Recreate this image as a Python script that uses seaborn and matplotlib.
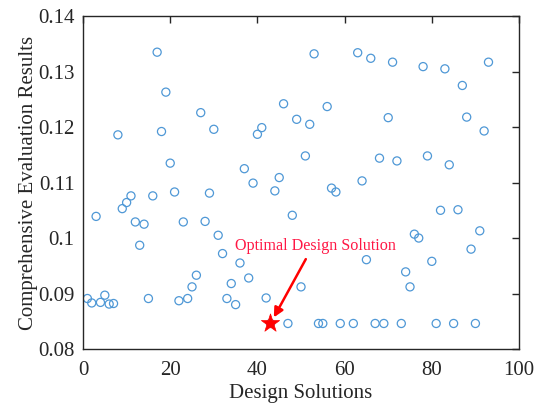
import matplotlib
matplotlib.use("Agg")
import matplotlib.pyplot as plt
import seaborn as sns
import pandas as pd

solutions = [1, 2, 3, 4, 5, 6, 7, 8, 9, 10, 11, 12, 13, 14, 15, 16, 17, 18, 19, 20,
             21, 22, 23, 24, 25, 26, 27, 28, 29, 30, 31, 32, 33, 34, 35, 36, 37, 38, 39, 40,
             41, 42, 43, 44, 45, 46, 47, 48, 49, 50, 51, 52, 53, 54, 55, 56, 57, 58, 59, 62,
             63, 64, 65, 66, 67, 68, 69, 70, 71, 72, 73, 74, 75, 76, 77, 78, 79, 80, 81, 82,
             83, 84, 85, 86, 87, 88, 89, 90, 91, 92, 93]
results = [0.0891, 0.0883, 0.1039, 0.0884, 0.0897, 0.0881, 0.0882, 0.1186, 0.1053, 0.1064,
           0.1076, 0.1029, 0.0987, 0.1025, 0.0891, 0.1076, 0.1335, 0.1192, 0.1263, 0.1135,
           0.1083, 0.0887, 0.1029, 0.0891, 0.0912, 0.0933, 0.1226, 0.1030, 0.1081, 0.1196,
           0.1005, 0.0972, 0.0891, 0.0918, 0.0880, 0.0955, 0.1125, 0.0928, 0.1099, 0.1187,
           0.1199, 0.0892, 0.0846, 0.1085, 0.1109, 0.1242, 0.0846, 0.1041, 0.1214, 0.0912,
           0.1148, 0.1205, 0.1332, 0.0846, 0.0846, 0.1237, 0.1090, 0.1083, 0.0846, 0.0846,
           0.1334, 0.1103, 0.0961, 0.1324, 0.0846, 0.1144, 0.0846, 0.1217, 0.1317, 0.1139,
           0.0846, 0.0939, 0.0912, 0.1007, 0.1000, 0.1309, 0.1148, 0.0958, 0.0846, 0.1050,
           0.1305, 0.1132, 0.0846, 0.1051, 0.1275, 0.1218, 0.0980, 0.0846, 0.1013, 0.1193,
           0.1317]
optimal_x = [43]
optimal_y = [0.0846]
annotation_text = "Optimal Design Solution"
x_ticks = [0, 20, 40, 60, 80, 100]
y_ticks = [0.08, 0.09, 0.10, 0.11, 0.12, 0.13, 0.14]
y_tick_labels = ["0.08", "0.09", "0.1", "0.11", "0.12", "0.13", "0.14"]

df = pd.DataFrame({"Design Solutions": solutions, "Result": results})
opt = pd.DataFrame({"x": optimal_x, "y": optimal_y})

sns.set_theme(style="white")
plt.rcParams["font.family"] = ["Liberation Serif", "DejaVu Serif"]

fig = plt.figure(figsize=(5.37, 4.03), dpi=100)
ax = fig.add_axes([0.1546, 0.134, 0.8119, 0.826])

sns.scatterplot(data=df, x="Design Solutions", y="Result", ax=ax, marker="o",
                s=34, facecolors="none", edgecolor="#4f98d6", linewidth=0.9, legend=False)
sns.scatterplot(data=opt, x="x", y="y", ax=ax, marker="*", s=190,
                color="#ff0000", edgecolor="#ff0000", linewidth=0.5, legend=False, zorder=5)

ax.text(34.9, 0.0986, annotation_text, color="#ff1744", fontsize=11.6,
        ha="left", va="center")
ax.annotate("", xy=(optimal_x[0], optimal_y[0]), xytext=(51.1, 0.0962),
            arrowprops=dict(arrowstyle="-|>", color="#ff0000", lw=1.8,
                            shrinkA=0, shrinkB=5, mutation_scale=14))

ax.set_xlim(0, 100)
ax.set_ylim(0.08, 0.14)
ax.set_xticks(x_ticks)
ax.set_yticks(y_ticks)
ax.set_yticklabels(y_tick_labels)
ax.set_xlabel("Design Solutions", fontsize=15, labelpad=3)
ax.set_ylabel("Comprehensive Evaluation Results", fontsize=15, labelpad=0)
ax.tick_params(axis="both", which="both", direction="in", length=5, width=1,
               labelsize=15, colors="#262626", top=True, right=True,
               labeltop=False, labelright=False)
ax.tick_params(axis="x", pad=8.5)
ax.tick_params(axis="y", pad=6)
for sp in ax.spines.values():
    sp.set_visible(True)
    sp.set_color("#262626")
    sp.set_linewidth(1.0)

fig.savefig("out.png", dpi=100)
